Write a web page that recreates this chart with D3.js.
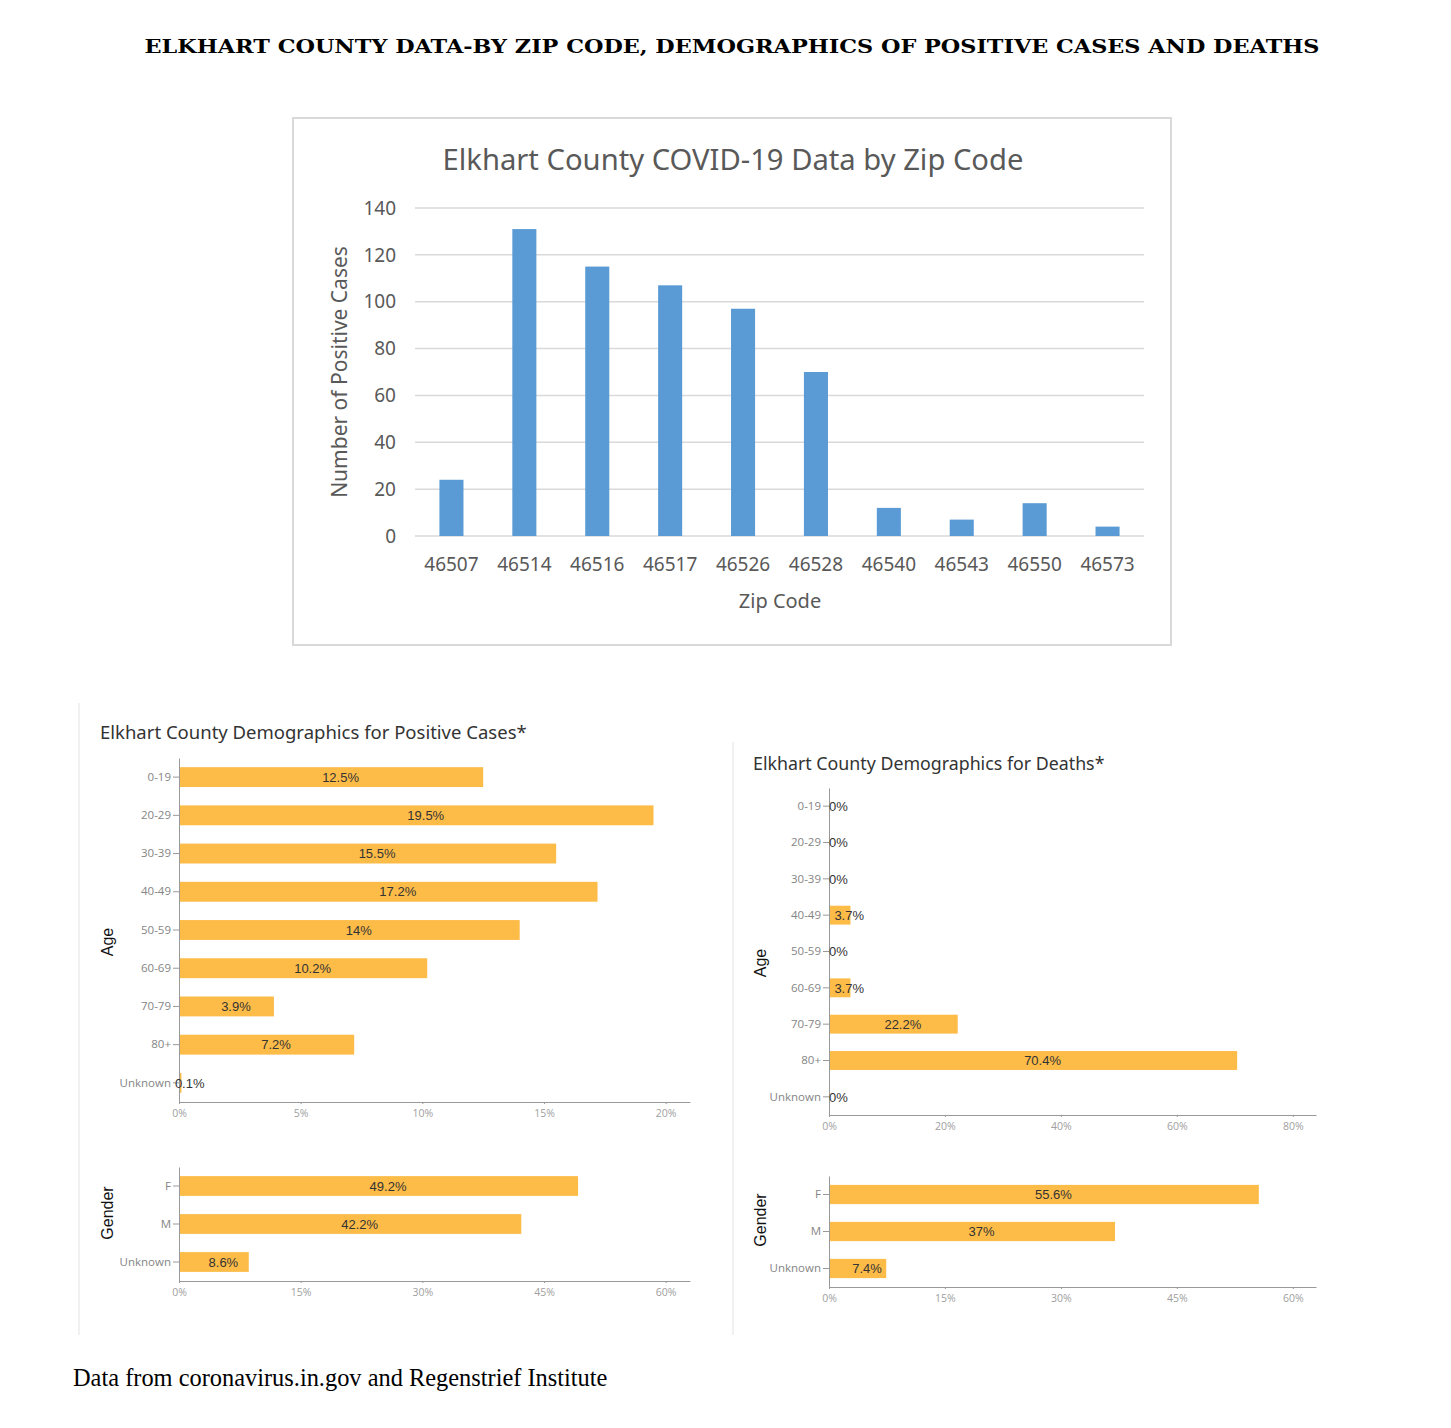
<!DOCTYPE html>
<html><head><meta charset="utf-8">
<script src="https://cdn.jsdelivr.net/npm/d3@7"></script>
<style>
html,body{margin:0;padding:0;background:#fff;}
svg{display:block;}
</style></head>
<body>
<svg id="chart" width="1451" height="1428"></svg>
<script>
// ---------- DATA ----------
const zipCodes = ["46507","46514","46516","46517","46526","46528","46540","46543","46550","46573"];
const zipCases = [24,131,115,107,97,70,12,7,14,4];
const zipTicks = [0,20,40,60,80,100,120,140];

const ageGroups = ["0-19","20-29","30-39","40-49","50-59","60-69","70-79","80+","Unknown"];
const posAgePct = [12.5,19.5,15.5,17.2,14,10.2,3.9,7.2,0.1];
const posAgeTicks = [0,5,10,15,20];

const genders = ["F","M","Unknown"];
const posGenderPct = [49.2,42.2,8.6];
const posGenderTicks = [0,15,30,45,60];

const deathAgePct = [0,0,0,3.7,0,3.7,22.2,70.4,0];
const deathAgeTicks = [0,20,40,60,80];

const deathGenderPct = [55.6,37,7.4];
const deathGenderTicks = [0,15,30,45,60];

// ---------- DRAW ----------
const svg = d3.select("#chart");

// main heading
svg.append("text")
  .attr("x", 732).attr("y", 53)
  .attr("text-anchor","middle")
  .attr("font-family","DejaVu Serif")
  .attr("font-weight","bold")
  .attr("font-size",19)
  .attr("textLength",1175).attr("lengthAdjust","spacingAndGlyphs")
  .attr("fill","#000")
  .text("ELKHART COUNTY DATA-BY ZIP CODE, DEMOGRAPHICS OF POSITIVE CASES AND DEATHS");

// ---- top column chart ----
svg.append("rect").attr("x",293).attr("y",118).attr("width",878).attr("height",527)
  .attr("fill","#fff").attr("stroke","#d9d9d9").attr("stroke-width",2);

svg.append("text").attr("x",733).attr("y",170).attr("text-anchor","middle")
  .attr("font-family","Noto Sans").attr("font-size",29.2).attr("fill","#595959")
  .text("Elkhart County COVID-19 Data by Zip Code");

const yTop = d3.scaleLinear().domain([0,140]).range([536,208]);
const xTop = d3.scaleBand().domain(zipCodes).range([415,1144]).paddingInner(0.67).paddingOuter(0.335);

svg.append("g").selectAll("line").data(zipTicks).join("line")
  .attr("x1",415).attr("x2",1144)
  .attr("y1",d=>yTop(d)).attr("y2",d=>yTop(d))
  .attr("stroke","#d9d9d9").attr("stroke-width",1.5);

svg.append("g").selectAll("text").data(zipTicks).join("text")
  .attr("x",396).attr("y",d=>yTop(d)).attr("dy","0.35em")
  .attr("text-anchor","end")
  .attr("font-family","Noto Sans").attr("font-size",19).attr("fill","#595959")
  .text(d=>d);

svg.append("g").selectAll("rect").data(zipCodes).join("rect")
  .attr("x",d=>xTop(d)).attr("width",xTop.bandwidth())
  .attr("y",(d,i)=>yTop(zipCases[i])).attr("height",(d,i)=>yTop(0)-yTop(zipCases[i]))
  .attr("fill","#5b9bd5");

svg.append("g").selectAll("text").data(zipCodes).join("text")
  .attr("x",d=>xTop(d)+xTop.bandwidth()/2).attr("y",571)
  .attr("text-anchor","middle")
  .attr("font-family","Noto Sans").attr("font-size",19).attr("fill","#595959")
  .text(d=>d);

svg.append("text").attr("x",780).attr("y",608).attr("text-anchor","middle")
  .attr("font-family","Noto Sans").attr("font-size",20).attr("fill","#595959")
  .text("Zip Code");

svg.append("text").attr("transform","translate(347,372) rotate(-90)")
  .attr("text-anchor","middle")
  .attr("font-family","Noto Sans").attr("font-size",21).attr("fill","#595959")
  .text("Number of Positive Cases");

// ---- separators ----
svg.append("line").attr("x1",79).attr("x2",79).attr("y1",703).attr("y2",1335)
  .attr("stroke","#ececec").attr("stroke-width",1.5);
svg.append("line").attr("x1",733).attr("x2",733).attr("y1",742).attr("y2",1335)
  .attr("stroke","#ececec").attr("stroke-width",1.5);

// ---- demographic titles ----
svg.append("text").attr("x",100).attr("y",739)
  .attr("font-family","Noto Sans").attr("font-size",18.5).attr("fill","#333")
  .text("Elkhart County Demographics for Positive Cases*");
svg.append("text").attr("x",753).attr("y",770)
  .attr("font-family","Noto Sans").attr("font-size",17.8).attr("fill","#333")
  .text("Elkhart County Demographics for Deaths*");

function hbar(cfg){
  const g = svg.append("g");
  const x = d3.scaleLinear().domain([0,cfg.xmax]).range([cfg.x0,cfg.x1]);
  const y = d3.scaleBand().domain(cfg.cats).range([cfg.y0,cfg.y1])
      .paddingInner(0.48).paddingOuter(0.24);

  g.append("g").selectAll("rect").data(cfg.cats).join("rect")
    .attr("x",x(0)).attr("y",d=>y(d))
    .attr("width",(d,i)=>x(cfg.vals[i])-x(0))
    .attr("height",y.bandwidth())
    .attr("fill","#fdbb48");

  const ax = g.append("g").attr("transform",`translate(${cfg.x0},0)`)
    .call(d3.axisLeft(y).tickSize(6).tickSizeOuter(0).tickPadding(2));
  ax.select(".domain").attr("stroke","#999");
  ax.selectAll(".tick line").attr("stroke","#999");
  ax.selectAll(".tick text").attr("font-family","Open Sans").attr("font-size",11.5).attr("fill","#858585");

  const bx = g.append("g").attr("transform",`translate(0,${cfg.y1})`)
    .call(d3.axisBottom(x).tickValues(cfg.ticks).tickFormat(d=>d+"%").tickSize(2).tickSizeOuter(0).tickPadding(6));
  bx.select(".domain").attr("stroke","#999");
  bx.selectAll(".tick line").attr("stroke","#999");
  bx.selectAll(".tick text").attr("font-family","Open Sans").attr("font-size",10.5).attr("fill","#a0a0a0");

  g.append("g").selectAll("text").data(cfg.cats).join("text")
    .attr("x",(d,i)=>(x(0)+x(cfg.vals[i]))/2 + 9.5)
    .attr("y",d=>y(d)+y.bandwidth()/2).attr("dy","0.36em")
    .attr("text-anchor","middle")
    .attr("font-family","Liberation Sans").attr("font-size",13).attr("fill","#333")
    .text((d,i)=>cfg.vals[i]+"%");

  g.append("text")
    .attr("transform",`translate(${cfg.lx},${cfg.ly}) rotate(-90)`)
    .attr("text-anchor","middle")
    .attr("font-family","Liberation Sans").attr("font-size",16).attr("fill","#111")
    .text(cfg.label);
}

hbar({cats:ageGroups, vals:posAgePct, ticks:posAgeTicks, xmax:21,
      x0:179, x1:690, y0:758, y1:1102, label:"Age", lx:113, ly:942});
hbar({cats:genders, vals:posGenderPct, ticks:posGenderTicks, xmax:63,
      x0:179, x1:690, y0:1167, y1:1281, label:"Gender", lx:113, ly:1213});
hbar({cats:ageGroups, vals:deathAgePct, ticks:deathAgeTicks, xmax:84,
      x0:829, x1:1316, y0:788, y1:1115, label:"Age", lx:766, ly:963});
hbar({cats:genders, vals:deathGenderPct, ticks:deathGenderTicks, xmax:63,
      x0:829, x1:1316, y0:1176, y1:1287, label:"Gender", lx:766, ly:1220});

// footer
svg.append("text").attr("x",73).attr("y",1386)
  .attr("font-family","Liberation Serif").attr("font-size",24.4).attr("fill","#000")
  .text("Data from coronavirus.in.gov and Regenstrief Institute");
</script>
</body></html>
